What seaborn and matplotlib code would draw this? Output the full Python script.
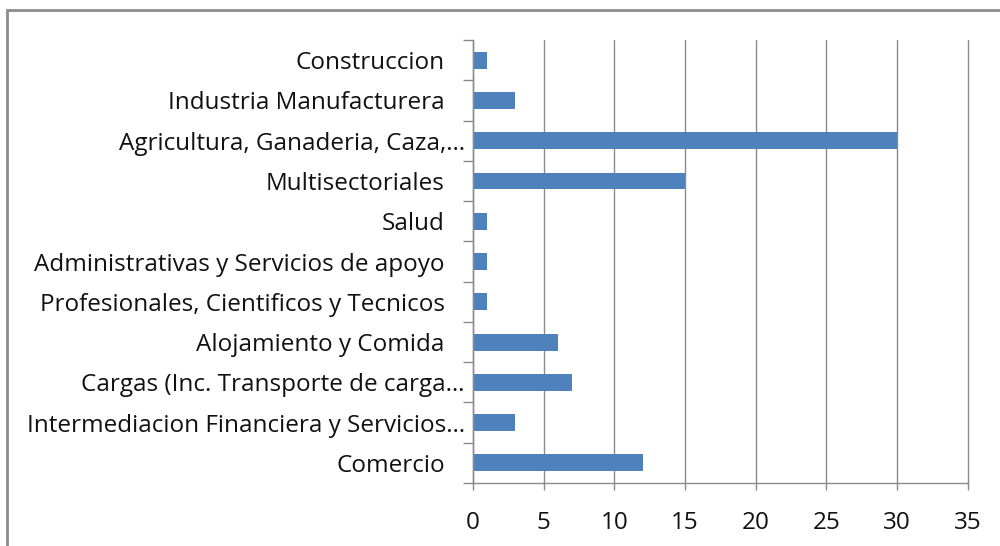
import matplotlib
matplotlib.use("Agg")
import matplotlib.pyplot as plt
import matplotlib.transforms as mtransforms
from matplotlib.patches import Rectangle
import seaborn as sns
import pandas as pd

# categories, top to bottom as shown
sectors = [
    "Construccion",
    "Industria Manufacturera",
    "Agricultura, Ganaderia, Caza,…",
    "Multisectoriales",
    "Salud",
    "Administrativas y Servicios de apoyo",
    "Profesionales, Cientificos y Tecnicos",
    "Alojamiento y Comida",
    "Cargas (Inc. Transporte de carga…",
    "Intermediacion Financiera y Servicios…",
    "Comercio",
]
counts = [1, 3, 30, 15, 1, 1, 1, 6, 7, 3, 12]
x_ticks = [0, 5, 10, 15, 20, 25, 30, 35]

df = pd.DataFrame({"sector": sectors, "count": counts})

sns.set_style("white")
plt.rcParams["font.family"] = ["Open Sans", "DejaVu Sans"]

fig = plt.figure(figsize=(10, 5.46), dpi=100)
ax = fig.add_axes([0.473, 0.1154, 0.4946, 0.8113])

sns.barplot(data=df, y="sector", x="count", orient="h", color="#4F81BD",
            saturation=1, width=0.42, linewidth=0, ax=ax)

# outer chart frame (cut off at right/bottom like the reference)
fig.patches.append(Rectangle((7 / 1000, -0.05), 1.1, 1 - 10 / 546 + 0.05,
                             transform=fig.transFigure, fill=False,
                             edgecolor="#8c8c8c", linewidth=2))

ax.set_xlim(0, 35)
ax.set_ylim(len(sectors) - 0.5, -0.5)
ax.set_xticks(x_ticks)
ax.xaxis.grid(True, color="#8a8a8a", linewidth=1)
for gl in ax.get_xgridlines():
    gl.set_clip_on(False)
ax.set_axisbelow(True)
ax.set_xlabel("")
ax.set_ylabel("")

for s in ["top", "right"]:
    ax.spines[s].set_visible(False)
for s in ["left", "bottom"]:
    ax.spines[s].set_color("#8a8a8a")
    ax.spines[s].set_linewidth(1)

# y ticks at category boundaries, labels on categories
ax.set_yticks([i - 0.5 for i in range(len(sectors) + 1)], minor=True)
ax.tick_params(axis="y", which="major", length=0, pad=6, labelsize=17.5,
               labelcolor="#111111")
ax.tick_params(axis="y", which="minor", left=True, length=7, color="#8a8a8a",
               width=1)
ax.tick_params(axis="x", which="major", bottom=True, length=5, color="#8a8a8a",
               width=1, labelsize=17.5, labelcolor="#111111", pad=15)

# labels not truncated sit a bit further left
offset = mtransforms.ScaledTranslation(-20 / 100, 0, fig.dpi_scale_trans)
for lab in ax.get_yticklabels():
    if not lab.get_text().endswith("…"):
        lab.set_transform(lab.get_transform() + offset)

fig.savefig("out.png", dpi=100)
